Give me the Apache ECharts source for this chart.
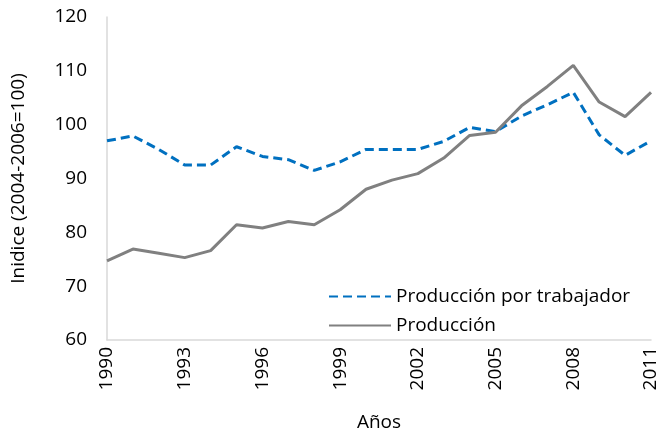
<!DOCTYPE html>
<html>
<head>
<meta charset="utf-8">
<script src="https://cdn.jsdelivr.net/npm/echarts@6/dist/echarts.min.js"></script>
<style>
  html, body { margin: 0; padding: 0; background: #fff; }
  #chart { width: 663px; height: 437px; }
</style>
</head>
<body>
<div id="chart"></div>
<script>
// Years on the horizontal axis
const years = ['1990','1991','1992','1993','1994','1995','1996','1997','1998','1999','2000',
               '2001','2002','2003','2004','2005','2006','2007','2008','2009','2010','2011'];

// Output per worker index (2004-2006 = 100)
const produccionPorTrabajador = [97.0, 97.9, 95.4, 92.5, 92.5, 95.9, 94.1, 93.5, 91.5, 93.1, 95.4,
                                 95.4, 95.4, 96.9, 99.5, 98.7, 101.6, 103.7, 106.0, 98.1, 94.3, 97.0];

// Total output index (2004-2006 = 100)
const produccion = [74.7, 76.9, 76.1, 75.3, 76.6, 81.4, 80.8, 82.0, 81.4, 84.2, 88.0,
                    89.7, 90.9, 93.8, 98.0, 98.6, 103.5, 107.1, 111.0, 104.2, 101.5, 106.0];

const yTicks = { min: 60, max: 120, interval: 10 };

const font = 'Open Sans';
const fs = 19;
const chart = echarts.init(document.getElementById('chart'), null, { renderer: 'canvas' });

chart.setOption({
  animation: false,
  backgroundColor: '#ffffff',
  textStyle: { fontFamily: font, color: '#000' },
  grid: { left: 107, right: 12, top: 17, bottom: 97, containLabel: false },
  legend: {
    orient: 'vertical',
    left: 323,
    top: 282,
    itemGap: 10,
    itemWidth: 62,
    itemHeight: 14,
    itemStyle: { opacity: 0 },
    textStyle: { fontFamily: font, fontSize: fs, color: '#000' },
    data: ['Producción por trabajador', 'Producción']
  },
  xAxis: {
    type: 'category',
    data: years,
    boundaryGap: false,
    name: 'Años',
    nameLocation: 'middle',
    nameGap: 73,
    nameTextStyle: { fontFamily: font, fontSize: fs, color: '#000' },
    axisLine: { lineStyle: { color: '#d9d9d9', width: 1.5 } },
    axisTick: { show: false },
    axisLabel: {
      interval: 2,
      rotate: 90,
      margin: 7,
      fontFamily: font,
      fontSize: fs,
      color: '#000'
    },
    splitLine: { show: false }
  },
  yAxis: {
    type: 'value',
    min: yTicks.min,
    max: yTicks.max,
    interval: yTicks.interval,
    name: 'Inidice (2004-2006=100)',
    nameLocation: 'middle',
    nameGap: 79,
    nameTextStyle: { fontFamily: font, fontSize: fs, color: '#000' },
    axisLine: { show: true, lineStyle: { color: '#d9d9d9', width: 1.5 } },
    axisTick: { show: false },
    axisLabel: { margin: 20, fontFamily: font, fontSize: fs, color: '#000' },
    splitLine: { show: false }
  },
  series: [
    {
      name: 'Producción por trabajador',
      type: 'line',
      data: produccionPorTrabajador,
      symbol: 'none',
      color: '#0070c0',
      lineStyle: { color: '#0070c0', width: 3, type: [9, 5] }
    },
    {
      name: 'Producción',
      type: 'line',
      data: produccion,
      symbol: 'none',
      color: '#808080',
      lineStyle: { color: '#808080', width: 3, type: 'solid' }
    }
  ]
});
</script>
</body>
</html>
